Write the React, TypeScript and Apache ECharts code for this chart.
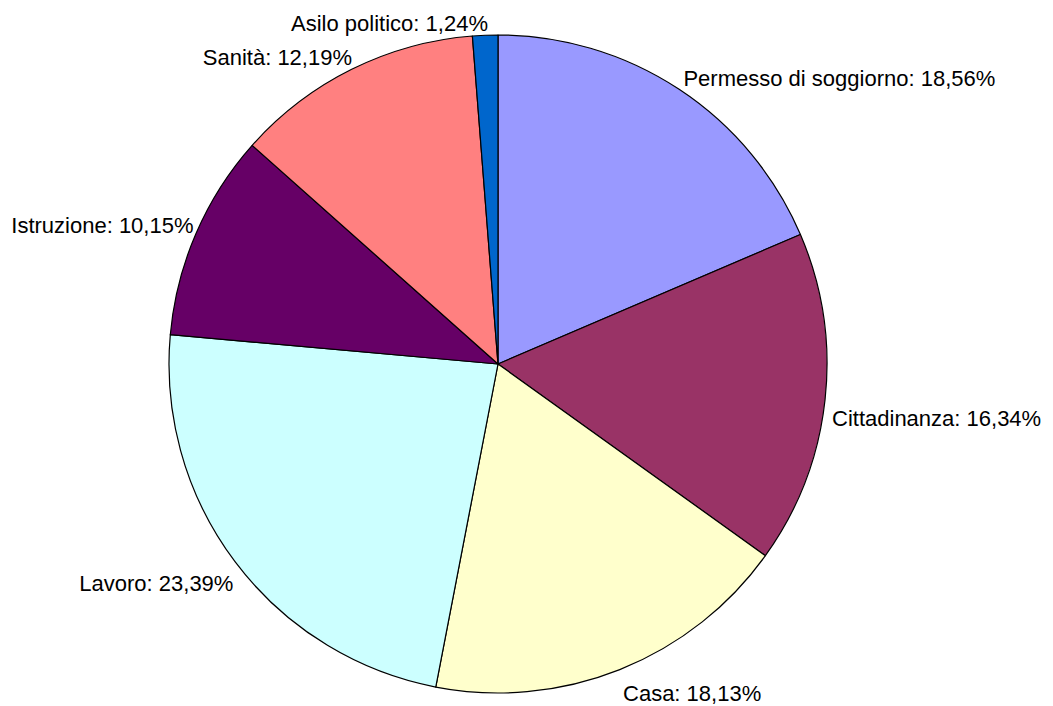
import React, { useEffect, useRef } from "react";
import * as echarts from "echarts";

const categories = [
  "Permesso di soggiorno",
  "Cittadinanza",
  "Casa",
  "Lavoro",
  "Istruzione",
  "Sanità",
  "Asilo politico",
];
const values = [18.56, 16.34, 18.13, 23.39, 10.15, 12.19, 1.24];
const colors = ["#9999FF", "#993366", "#FFFFCC", "#CCFFFF", "#660066", "#FF8080", "#0066CC"];

const total = values.reduce((a, b) => a + b, 0);
const midAngles = values.map((v, i) => {
  const before = values.slice(0, i).reduce((a, b) => a + b, 0);
  return ((before + v / 2) / total) * 2 * Math.PI;
});

export default function App() {
  const ref = useRef<HTMLDivElement>(null);
  useEffect(() => {
    const chart = echarts.init(ref.current!, undefined, { renderer: "svg" });
    chart.setOption({
      animation: false,
      backgroundColor: "#ffffff",
      series: [
        {
          type: "pie",
          center: [498, 364],
          radius: [0, 329],
          startAngle: 90,
          clockwise: true,
          avoidLabelOverlap: false,
          data: categories.map((name, i) => ({
            name,
            value: values[i],
            itemStyle: { color: colors[i] },
          })),
          itemStyle: { borderColor: "#000000", borderWidth: 1.2 },
          emphasis: { disabled: true },
          label: {
            show: true,
            position: "outside",
            distanceToLabelLine: 0,
            formatter: (p: any) => `${p.name}: ${p.value.toFixed(2).replace(".", ",")}%`,
            fontFamily: "Liberation Sans, Arial, sans-serif",
            fontSize: 22,
            color: "#000000",
          },
          labelLine: { show: false, length: 6, length2: 0 },
          labelLayout: (params: any) => {
            const a = midAngles[params.dataIndex];
            const upper = Math.cos(a) > 0;
            const left = Math.sin(a) < 0;
            return {
              verticalAlign: upper ? "bottom" : "top",
              dy: upper ? 5 : 7,
              dx: left ? 3 : 1,
            };
          },
        },
      ],
    });
    return () => chart.dispose();
  }, []);
  return (
    <div
      ref={ref}
      style={{ position: "fixed", left: 0, top: 0, width: 1053, height: 706 }}
    />
  );
}
